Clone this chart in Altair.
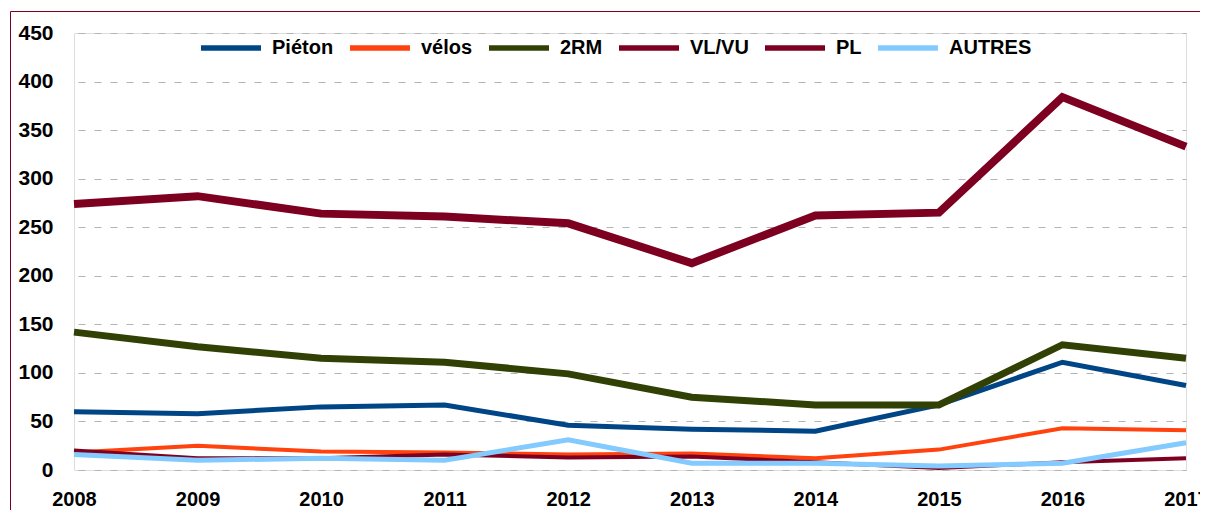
import altair as alt
import pandas as pd

years = [2008, 2009, 2010, 2011, 2012, 2013, 2014, 2015, 2016, 2017]
series_names = ["Piéton", "vélos", "2RM", "VL/VU", "PL", "AUTRES"]
pieton = [60, 58, 65, 67, 46, 42, 40, 67, 111, 87]
velos = [18, 25, 19, 18, 16, 17, 12, 21, 43, 41]
rm2 = [142, 127, 115, 111, 99, 75, 67, 67, 129, 115]
vlvu = [274, 282, 264, 261, 254, 213, 262, 265, 384, 333]
pl = [20, 12, 12, 16, 13, 14, 8, 2, 8, 12]
autres = [16, 10, 12, 10, 31, 7, 7, 4, 7, 28]

colors = ["#004586", "#ff420e", "#314004", "#7e0021", "#7e0021", "#83caff"]
widths = [5, 4, 7, 8, 4, 5]

rows = []
for i, (name, vals) in enumerate(zip(series_names, [pieton, velos, rm2, vlvu, pl, autres])):
    for y, v in zip(years, vals):
        rows.append({"year": y, "value": v, "series": name, "ord": i, "sw": widths[i]})
df = pd.DataFrame(rows)

FONT = "Liberation Sans"
W, H = 1112, 437

legend = alt.Legend(
    title=None, orient="none", legendX=124, legendY=-18, direction="horizontal",
    symbolType="stroke", symbolSize=3600, symbolStrokeWidth=5.5,
    labelFontSize=20, labelFont=FONT, labelFontWeight="bold", labelColor="#000000",
    labelOffset=8, columnPadding=5, padding=0,
)

lines = alt.Chart(df).mark_line(strokeCap="butt", strokeJoin="miter").encode(
    x=alt.X("year:Q",
            scale=alt.Scale(domain=[2008, 2017], nice=False, zero=False),
            axis=alt.Axis(values=years, format="d", grid=False, domain=False, ticks=False,
                          labelFontSize=20, labelFont=FONT, labelFontWeight="bold",
                          labelColor="#000000", labelPadding=19, labelFlush=False,
                          labelOverlap=False, title=None)),
    y=alt.Y("value:Q",
            scale=alt.Scale(domain=[0, 450], nice=False),
            axis=alt.Axis(values=list(range(0, 451, 50)), grid=True, gridDash=[7, 9],
                          gridDashOffset=12, gridColor="#b3b3b3", gridWidth=1,
                          domain=False, ticks=False, labelFontSize=21, labelFont=FONT,
                          labelFontWeight="bold", labelColor="#000000", labelPadding=21,
                          title=None)),
    color=alt.Color("series:N", scale=alt.Scale(domain=series_names, range=colors),
                    sort=series_names, legend=legend),
    strokeWidth=alt.StrokeWidth("sw:Q", scale=None),
    order=alt.Order("ord:Q"),
)

frame = alt.Chart(pd.DataFrame({"a": [0]})).mark_rect(
    fillOpacity=0, stroke="#7e0021", strokeWidth=1
).encode(
    x=alt.value(-63.5), x2=alt.value(W + 300),
    y=alt.value(-21.5), y2=alt.value(H + 300),
)

chart = alt.layer(frame, lines).properties(
    width=W, height=H,
    autosize=alt.AutoSizeParams(type="none"),
    padding={"left": 66, "top": 25, "right": 14, "bottom": 40},
).configure_view(stroke=None).configure(font=FONT)

chart.save("out.html", embed_options={"renderer": "svg", "actions": False})
